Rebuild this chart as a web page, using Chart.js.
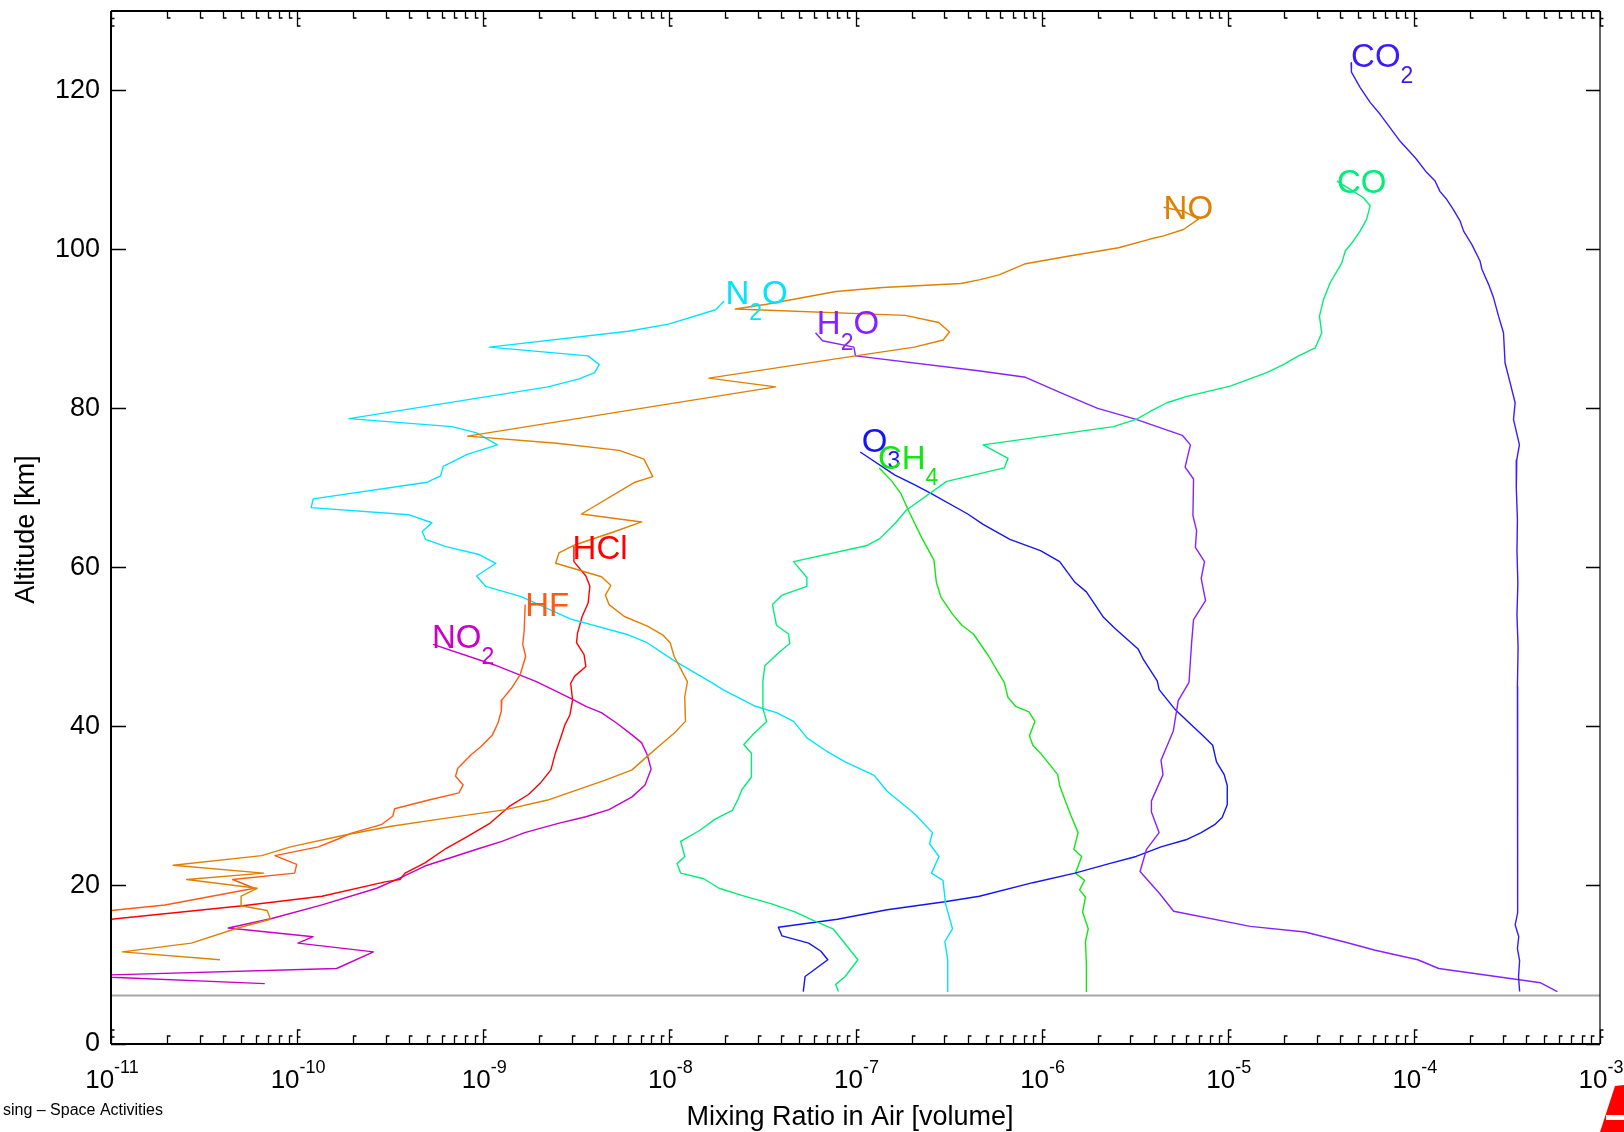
<!DOCTYPE html>
<html>
<head>
<meta charset="utf-8">
<title>Mixing ratio profiles</title>
<script src="https://cdn.jsdelivr.net/npm/chart.js@4.4.1/dist/chart.umd.min.js"></script>
<style>
  html, body { margin: 0; padding: 0; background: #fff; }
  #wrap { position: relative; width: 1624px; height: 1132px; }
</style>
</head>
<body>
<div id="wrap"><canvas id="profileChart"></canvas></div>
<script>
// mixing ratio [volume] vs altitude [km]
const co2Mix = [4.6e-5, 4.62e-5, 5.14e-5, 5.82e-5, 6.59e-5, 7.46e-5, 8.44e-5, 1.02e-4, 1.17e-4, 1.3e-4, 1.38e-4, 1.5e-4, 1.63e-4, 1.77e-4, 1.85e-4, 2.05e-4, 2.27e-4, 2.32e-4, 2.52e-4, 2.68e-4, 2.85e-4, 3.03e-4, 3.09e-4, 3.29e-4, 3.5e-4, 3.43e-4, 3.69e-4, 3.57e-4, 3.55e-4, 3.6e-4, 3.58e-4, 3.62e-4, 3.58e-4, 3.63e-4, 3.6e-4, 3.62e-4, 3.6e-4, 3.62e-4, 3.6e-4, 3.62e-4, 3.6e-4, 3.5e-4, 3.66e-4, 3.6e-4, 3.7e-4, 3.65e-4, 3.7e-4];
const co2Alt = [123.5, 122.3, 120.4, 118.5, 117.0, 115.3, 113.6, 111.5, 109.7, 108.6, 107.3, 106.3, 105.0, 103.6, 102.3, 100.6, 98.5, 97.5, 95.6, 93.9, 91.6, 89.5, 85.7, 83.2, 80.7, 78.6, 75.4, 73.5, 70, 66, 62, 58, 54, 50, 45, 40, 35, 30, 25, 20, 16.5, 15, 13.5, 12, 10.5, 8.5, 6.6];

const coMix = [3.86e-5, 4.74e-5, 5.36e-5, 5.82e-5, 5.58e-5, 5.14e-5, 4.64e-5, 4.28e-5, 4.1e-5, 3.55e-5, 3.27e-5, 3.11e-5, 3.2e-5, 2.95e-5, 2.4e-5, 1.99e-5, 1.62e-5, 1.03e-5, 6.03e-6, 4.71e-6, 3.83e-6, 3.22e-6, 2.43e-6, 4.85e-7, 6.6e-7, 6.3e-7, 3.09e-7, 1.88e-7, 1.63e-7, 1.35e-7, 1.14e-7, 4.65e-8, 5.48e-8, 5.48e-8, 4.03e-8, 3.58e-8, 3.76e-8, 4.37e-8, 4.43e-8, 3.85e-8, 3.26e-8, 3.18e-8, 3.18e-8, 3.33e-8, 2.83e-8, 2.51e-8, 2.76e-8, 2.76e-8, 2.45e-8, 2.34e-8, 2.18e-8, 1.76e-8, 1.46e-8, 1.15e-8, 1.21e-8, 1.1e-8, 1.15e-8, 1.53e-8, 1.85e-8, 2.45e-8, 3.58e-8, 4.76e-8, 6.0e-8, 7.57e-8, 8.6e-8, 1.03e-7, 8.8e-8, 7.83e-8, 8.1e-8];
const coAlt = [108.6, 107.3, 106.5, 105.5, 103.8, 102.3, 100.8, 99.8, 98.3, 95.8, 93.7, 91.6, 89.5, 87.6, 86.6, 85.5, 84.5, 82.8, 81.5, 80.7, 79.6, 78.6, 77.7, 75.4, 73.7, 72.5, 70.8, 67.2, 65.5, 63.6, 62.7, 60.7, 58.7, 57.6, 56.5, 55.3, 52.7, 51.6, 50.4, 49.2, 47.6, 45.7, 42.2, 40.6, 39.0, 37.7, 36.6, 33.6, 32.0, 30.8, 29.4, 28.3, 26.9, 25.5, 23.6, 22.7, 21.5, 20.8, 19.6, 18.7, 17.6, 16.6, 15.5, 14.5, 12.9, 10.6, 8.5, 7.5, 6.6];

const noMix = [4.52e-6, 5.78e-6, 6.96e-6, 5.78e-6, 4.52e-6, 3.83e-6, 2.59e-6, 1.36e-6, 8.2e-7, 5.9e-7, 4.68e-7, 3.68e-7, 1.4e-7, 7.85e-8, 3.33e-8, 2.26e-8, 1.85e-7, 2.8e-7, 3.2e-7, 2.96e-7, 2.07e-7, 1.0e-7, 1.63e-8, 3.72e-8, 8.24e-10, 2.48e-9, 5.38e-9, 7.3e-9, 8.15e-9, 6.53e-9, 3.37e-9, 7.1e-9, 5.09e-9, 3.1e-9, 2.55e-9, 2.45e-9, 4.32e-9, 4.85e-9, 4.53e-9, 4.74e-9, 5.73e-9, 7.62e-9, 9.2e-9, 1.01e-8, 1.06e-8, 1.25e-8, 1.21e-8, 1.22e-8, 1.06e-8, 9.0e-9, 7.6e-9, 6.3e-9, 4.53e-9, 3.4e-9, 2.22e-9, 1.32e-9, 6.2e-10, 3.2e-10, 1.81e-10, 9.2e-11, 6.45e-11, 2.16e-11, 6.6e-11, 2.55e-11, 6.1e-11, 5.0e-11, 5.0e-11, 6.9e-11, 7.2e-11, 4.8e-11, 2.7e-11, 1.15e-11, 3.85e-11];
const noAlt = [105.3, 104.8, 103.8, 102.5, 101.7, 101.3, 100.2, 99.1, 98.2, 96.8, 96.2, 95.7, 95.2, 94.7, 93.1, 92.5, 91.7, 90.8, 89.6, 88.6, 87.7, 86.6, 83.8, 82.7, 76.5, 75.6, 74.7, 73.6, 71.4, 70.7, 66.7, 65.7, 64.5, 62.8, 61.8, 60.5, 58.8, 57.7, 56.5, 55.3, 53.8, 52.6, 51.5, 50.5, 48.8, 45.6, 43.7, 40.6, 39.1, 37.7, 36.2, 34.5, 33.2, 32.2, 30.7, 29.5, 28.4, 27.4, 26.3, 24.8, 23.7, 22.5, 21.5, 20.7, 19.6, 18.6, 17.4, 16.8, 15.7, 14.6, 12.7, 11.6, 10.6];

const n2oMix = [1.97e-8, 1.77e-8, 9.9e-9, 6.0e-9, 1.08e-9, 3.66e-9, 4.2e-9, 3.97e-9, 3.27e-9, 2.23e-9, 1.9e-10, 6.8e-10, 9.2e-10, 1.19e-9, 8.2e-10, 6.1e-10, 5.9e-10, 5.0e-10, 1.22e-10, 1.19e-10, 4.0e-10, 5.3e-10, 4.7e-10, 4.9e-10, 6.3e-10, 9.5e-10, 1.17e-9, 9.2e-10, 1.03e-9, 1.6e-9, 2.93e-9, 6.0e-9, 7.6e-9, 1.05e-8, 1.68e-8, 1.94e-8, 2.9e-8, 3.76e-8, 4.65e-8, 5.5e-8, 6.95e-8, 8.8e-8, 1.26e-7, 1.48e-7, 2.07e-7, 2.59e-7, 2.5e-7, 2.81e-7, 2.56e-7, 2.95e-7, 3.05e-7, 3.32e-7, 3.02e-7, 3.13e-7, 3.13e-7];
const n2oAlt = [93.5, 92.4, 90.6, 89.7, 87.7, 86.6, 85.5, 84.5, 83.7, 82.7, 78.7, 77.7, 76.9, 75.4, 74.2, 72.7, 71.5, 70.7, 68.6, 67.5, 66.6, 65.6, 64.5, 63.5, 62.6, 61.6, 60.5, 58.9, 57.6, 56.3, 53.5, 51.5, 50.5, 48.3, 45.5, 44.6, 42.5, 41.7, 40.6, 38.5, 36.9, 35.5, 33.8, 31.8, 29.0, 26.6, 25.2, 23.6, 21.5, 20.6, 17.6, 14.5, 12.9, 10.6, 6.6];

const h2oMix = [6.1e-8, 6.65e-8, 9.8e-8, 1.0e-7, 4.68e-7, 8.2e-7, 1.28e-6, 2.0e-6, 3.22e-6, 5.7e-6, 6.3e-6, 5.9e-6, 6.55e-6, 6.5e-6, 6.8e-6, 6.7e-6, 7.5e-6, 7.2e-6, 7.6e-6, 6.55e-6, 6.4e-6, 6.19e-6, 5.42e-6, 5.1e-6, 4.38e-6, 4.49e-6, 3.89e-6, 3.89e-6, 4.28e-6, 3.66e-6, 3.38e-6, 4.28e-6, 5.12e-6, 1.32e-5, 2.6e-5, 4.3e-5, 6.2e-5, 1.05e-4, 1.36e-4, 4.8e-4, 5.9e-4];
const h2oAlt = [89.5, 88.5, 87.7, 86.6, 84.7, 83.9, 81.9, 80.0, 78.6, 76.6, 75.4, 72.6, 71.1, 66.5, 64.6, 62.5, 60.7, 58.6, 55.8, 53.4, 50.6, 45.5, 43.2, 39.4, 35.7, 33.9, 30.6, 29.2, 26.6, 24.5, 21.7, 19.0, 16.7, 14.8, 14.1, 12.8, 11.8, 10.6, 9.5, 7.7, 6.6];

const o3Mix = [1.06e-7, 1.63e-7, 2.07e-7, 2.5e-7, 4.01e-7, 4.85e-7, 6.75e-7, 9.86e-7, 1.25e-6, 1.51e-6, 1.74e-6, 2.15e-6, 2.48e-6, 3.3e-6, 3.54e-6, 4.18e-6, 4.28e-6, 5.17e-6, 5.96e-6, 7.2e-6, 8.3e-6, 8.7e-6, 9.57e-6, 9.94e-6, 9.94e-6, 9.33e-6, 8.5e-6, 7.2e-6, 5.96e-6, 4.38e-6, 3.22e-6, 2.31e-6, 1.51e-6, 8.97e-7, 4.63e-7, 3.02e-7, 1.48e-7, 8.0e-8, 3.85e-8, 4.03e-8, 5.6e-8, 6.5e-8, 7.1e-8, 5.36e-8, 5.24e-8];
const o3Alt = [74.5, 71.6, 70.4, 69.4, 66.7, 65.4, 63.5, 62.1, 60.7, 58.1, 56.9, 53.7, 52.3, 49.7, 48.3, 45.7, 44.6, 42.2, 40.8, 39.0, 37.6, 35.5, 33.9, 32.5, 30.1, 28.5, 27.6, 26.6, 25.7, 24.8, 23.6, 22.7, 21.5, 20.3, 18.6, 17.9, 16.9, 15.7, 14.7, 13.6, 12.7, 11.7, 10.6, 8.5, 6.6];

const ch4Mix = [1.34e-7, 1.56e-7, 1.75e-7, 1.92e-7, 2.27e-7, 2.64e-7, 2.72e-7, 2.88e-7, 3.32e-7, 3.73e-7, 4.3e-7, 5.2e-7, 5.86e-7, 6.3e-7, 6.6e-7, 7.25e-7, 8.55e-7, 9.2e-7, 8.6e-7, 8.97e-7, 9.86e-7, 1.22e-6, 1.25e-6, 1.34e-6, 1.44e-6, 1.57e-6, 1.49e-6, 1.64e-6, 1.52e-6, 1.7e-6, 1.6e-6, 1.72e-6, 1.66e-6, 1.78e-6, 1.72e-6, 1.74e-6, 1.74e-6];
const ch4Alt = [72.5, 70.9, 69.3, 67.2, 63.7, 60.9, 58.1, 56.2, 54.1, 52.7, 51.6, 48.8, 46.7, 45.5, 43.6, 42.5, 41.8, 40.6, 38.8, 37.6, 36.6, 33.9, 32.5, 30.6, 28.7, 26.6, 24.5, 23.6, 21.5, 20.6, 19.4, 18.5, 16.6, 14.5, 12.9, 10.1, 6.6];

const hclMix = [3.07e-9, 3.07e-9, 3.56e-9, 3.74e-9, 3.66e-9, 3.4e-9, 3.21e-9, 3.17e-9, 3.48e-9, 3.56e-9, 3.1e-9, 2.95e-9, 3.02e-9, 2.92e-9, 2.75e-9, 2.62e-9, 2.44e-9, 2.31e-9, 2.02e-9, 1.75e-9, 1.38e-9, 1.09e-9, 8.2e-10, 6.3e-10, 4.86e-10, 3.8e-10, 3.57e-10, 2.97e-10, 1.36e-10, 5.1e-11, 1e-11];
const hclAlt = [62.6, 60.7, 58.9, 57.6, 55.5, 53.8, 51.7, 50.5, 49.0, 47.5, 46.3, 45.4, 43.3, 41.4, 40.2, 38.7, 36.6, 34.5, 32.8, 31.4, 29.9, 27.8, 26.1, 24.6, 22.8, 21.5, 20.7, 20.4, 18.6, 17.4, 15.7];

const hfMix = [1.68e-9, 1.66e-9, 1.63e-9, 1.69e-9, 1.58e-9, 1.42e-9, 1.26e-9, 1.25e-9, 1.2e-9, 1.12e-9, 9.7e-10, 8.6e-10, 7.3e-10, 7.1e-10, 7.8e-10, 7.4e-10, 5.1e-10, 3.34e-10, 3.27e-10, 2.83e-10, 1.94e-10, 1.66e-10, 1.3e-10, 7.6e-11, 9.95e-11, 9.7e-11, 4.5e-11, 5.9e-11, 1.95e-11, 1e-11];
const hfAlt = [55.3, 52.1, 50.3, 48.8, 46.5, 44.8, 43.3, 41.9, 40.4, 38.9, 37.4, 36.4, 34.7, 33.7, 32.6, 31.6, 30.7, 29.6, 28.7, 27.6, 26.5, 25.8, 24.8, 23.7, 22.6, 21.5, 20.7, 19.6, 17.5, 16.8];

const no2Mix = [5.37e-10, 1.15e-9, 1.93e-9, 2.95e-9, 3.56e-9, 4.31e-9, 5.2e-9, 6.3e-9, 7.1e-9, 7.6e-9, 7.98e-9, 7.4e-9, 6.3e-9, 4.74e-9, 3.56e-9, 2.56e-9, 1.67e-9, 1.26e-9, 9.5e-10, 4.86e-10, 3.65e-10, 2.68e-10, 1.36e-10, 7.3e-11, 4.27e-11, 1.22e-10, 1.01e-10, 2.57e-10, 1.63e-10, 1e-11, 1e-11, 6.7e-11];
const no2Alt = [50.3, 47.7, 45.6, 43.5, 42.5, 41.7, 40.4, 38.9, 37.9, 36.4, 34.6, 32.6, 31.1, 29.5, 28.6, 27.8, 26.6, 25.5, 24.6, 22.4, 21.0, 19.6, 17.5, 15.8, 14.6, 13.5, 12.7, 11.6, 9.5, 8.7, 8.4, 7.6];

// label anchors (mixing ratio, altitude) at the left end of each gas name
const labelMix = [4.6e-5, 3.86e-5, 4.52e-6, 2.0e-8, 6.2e-8, 1.08e-7, 1.32e-7, 3.02e-9, 1.68e-9, 5.3e-10];
const labelAlt = [122.9, 107.1, 103.8, 93.1, 89.3, 74.5, 72.3, 61.0, 53.8, 49.8];

const decadeExp = [-11, -10, -9, -8, -7, -6, -5, -4, -3];
const altTicks = [0, 20, 40, 60, 80, 100, 120];
const groundAlt = 6.1;

const FONT = '"Liberation Sans", Arial, Helvetica, sans-serif';

function zip(mix, alt) {
    const pts = [];
    for (let i = 0; i < Math.min(mix.length, alt.length); i++) pts.push({ x: mix[i], y: alt[i] });
    return pts;
}

const gases = [
    { name: "CO2", mix: co2Mix, alt: co2Alt, color: "#3a1cff", text: [["CO", 0], ["2", 1]] },
    { name: "CO", mix: coMix, alt: coAlt, color: "#00ee78", text: [["CO", 0]] },
    { name: "NO", mix: noMix, alt: noAlt, color: "#e08000", text: [["NO", 0]] },
    { name: "N2O", mix: n2oMix, alt: n2oAlt, color: "#00e4ff", text: [["N", 0], ["2", 1], ["O", 0]] },
    { name: "H2O", mix: h2oMix, alt: h2oAlt, color: "#8522ff", text: [["H", 0], ["2", 1], ["O", 0]] },
    { name: "O3", mix: o3Mix, alt: o3Alt, color: "#1414f5", text: [["O", 0], ["3", 1]] },
    { name: "CH4", mix: ch4Mix, alt: ch4Alt, color: "#14e614", text: [["CH", 0], ["4", 1]] },
    { name: "HCl", mix: hclMix, alt: hclAlt, color: "#ff0000", text: [["HCl", 0]] },
    { name: "HF", mix: hfMix, alt: hfAlt, color: "#ff5a14", text: [["HF", 0]] },
    { name: "NO2", mix: no2Mix, alt: no2Alt, color: "#c800c8", text: [["NO", 0], ["2", 1]] },
];

// frame, IDL-style ticks, superscript tick labels, gas names
const decor = {
    id: "decor",
    beforeDatasetsDraw(chart) {
        const { ctx, chartArea: a, scales } = chart;
        const gy = scales.y.getPixelForValue(groundAlt);
        ctx.save();
        ctx.strokeStyle = "#a8a8a8";
        ctx.lineWidth = 2;
        ctx.beginPath();
        ctx.moveTo(a.left, gy);
        ctx.lineTo(a.right, gy);
        ctx.stroke();
        ctx.restore();
    },
    afterDatasetsDraw(chart) {
        const { ctx, chartArea: a, scales } = chart;
        const xs = scales.x, ys = scales.y;
        ctx.save();

        // gas names with subscripts
        gases.forEach((g, i) => {
            let px = xs.getPixelForValue(labelMix[i]);
            const py = ys.getPixelForValue(labelAlt[i]);
            ctx.fillStyle = g.color;
            ctx.textAlign = "left";
            ctx.textBaseline = "alphabetic";
            g.text.forEach(([s, sub]) => {
                ctx.font = (sub ? 23 : 33) + "px " + FONT;
                ctx.fillText(s, px, sub ? py + 16 : py);
                px += ctx.measureText(s).width;
            });
        });

        // frame
        ctx.strokeStyle = "#000";
        ctx.lineWidth = 2;
        ctx.beginPath();
        ctx.moveTo(a.left, a.top); ctx.lineTo(a.right, a.top);
        ctx.moveTo(a.left, a.bottom); ctx.lineTo(a.right, a.bottom);
        ctx.moveTo(a.left, a.top); ctx.lineTo(a.left, a.bottom);
        ctx.stroke();
        ctx.lineWidth = 1.2;
        ctx.beginPath();
        ctx.moveTo(a.right, a.top); ctx.lineTo(a.right, a.bottom);
        ctx.stroke();

        // x ticks, bottom and top
        ctx.lineWidth = 1.3;
        const mark = (x0, y0, dir, len, mid) => {
            ctx.beginPath();
            ctx.moveTo(x0, y0);
            ctx.lineTo(x0, y0 + dir * len);
            ctx.lineTo(x0 + 3, y0 + dir * len);
            if (mid) {
                ctx.moveTo(x0, y0 + dir * len * 0.5);
                ctx.lineTo(x0 + 3, y0 + dir * len * 0.5);
            }
            ctx.stroke();
        };
        decadeExp.forEach(d => {
            const mults = d === -3 ? [1] : [1, 2, 3, 4, 5, 6, 7, 8, 9];
            mults.forEach(m => {
                const px = Math.round(xs.getPixelForValue(m * Math.pow(10, d))) + 0.5;
                const major = m === 1;
                mark(px, a.bottom, -1, major ? 14 : 8, major);
                mark(px, a.top, 1, major ? 15 : 7, major);
            });
        });

        // y ticks, left and right, pointing inward
        altTicks.forEach(v => {
            const py = Math.round(ys.getPixelForValue(v)) + 0.5;
            ctx.beginPath();
            ctx.moveTo(a.left, py); ctx.lineTo(a.left + 15, py);
            ctx.moveTo(a.right, py); ctx.lineTo(a.right - 14, py);
            ctx.stroke();
        });

        // x tick labels 10^n
        ctx.fillStyle = "#000";
        ctx.textAlign = "left";
        ctx.textBaseline = "alphabetic";
        decadeExp.forEach(d => {
            const px = xs.getPixelForValue(Math.pow(10, d));
            const sup = String(d);
            ctx.font = "26px " + FONT;
            const w1 = ctx.measureText("10").width;
            ctx.font = "18px " + FONT;
            const w2 = ctx.measureText(sup).width;
            const x0 = px - (w1 + w2) / 2 + 1;
            ctx.font = "26px " + FONT;
            ctx.fillText("10", x0, a.bottom + 44);
            ctx.font = "18px " + FONT;
            ctx.fillText(sup, x0 + w1, a.bottom + 29);
        });

        // axis titles
        ctx.font = "27px " + FONT;
        ctx.textAlign = "center";
        ctx.fillText("Mixing Ratio in Air [volume]", 850, 1125);
        ctx.save();
        ctx.translate(27, (a.top + a.bottom) / 2 + 2);
        ctx.rotate(-Math.PI / 2);
        ctx.textBaseline = "middle";
        ctx.fillText("Altitude [km]", 0, 0);
        ctx.restore();

        // footer fragment and logo corner
        ctx.font = "16px " + FONT;
        ctx.textAlign = "right";
        ctx.textBaseline = "alphabetic";
        ctx.fillText("sing \u2013 Space Activities", 163, 1115);
        ctx.fillStyle = "#ff0000";
        ctx.beginPath();
        ctx.moveTo(1600, 1132);
        ctx.lineTo(1615, 1086);
        ctx.lineTo(1624, 1085);
        ctx.lineTo(1624, 1132);
        ctx.closePath();
        ctx.fill();
        ctx.fillStyle = "#fff";
        ctx.fillRect(1606, 1115, 18, 5);

        ctx.restore();
    },
};

document.addEventListener("DOMContentLoaded", () => {
    const canvas = document.getElementById("profileChart");
    if (typeof Chart === "undefined") {
        console.warn("Chart.js not available");
        return;
    }
    new Chart(canvas, {
        type: "scatter",
        data: {
            datasets: gases.map(g => ({
                label: g.name,
                data: zip(g.mix, g.alt),
                showLine: true,
                borderColor: g.color,
                backgroundColor: g.color,
                borderWidth: 1.4,
                borderJoinStyle: "round",
                pointRadius: 0,
                pointHoverRadius: 0,
                tension: 0,
            })),
        },
        options: {
            responsive: true,
            maintainAspectRatio: false,
            animation: false,
            devicePixelRatio: 1,
            events: [],
            layout: { padding: { left: 0, right: 24, top: 11, bottom: 88 } },
            plugins: { legend: { display: false }, tooltip: { enabled: false } },
            scales: {
                x: {
                    type: "logarithmic",
                    min: 1e-11,
                    max: 1e-3,
                    grid: { display: false },
                    border: { display: false },
                    ticks: { display: false },
                    afterFit: s => {
                        s.height = 0;
                        s.paddingLeft = 0;
                        s.paddingRight = 0;
                    },
                },
                y: {
                    type: "linear",
                    min: 0,
                    max: 130,
                    grid: { display: false },
                    border: { display: false },
                    ticks: {
                        stepSize: 20,
                        includeBounds: false,
                        color: "#000",
                        padding: 3,
                        font: { family: FONT, size: 27 },
                    },
                    afterFit: s => {
                        s.width = 111;
                        s.paddingTop = 0;
                        s.paddingBottom = 0;
                    },
                },
            },
        },
        plugins: [decor],
    });
});
</script>
</body>
</html>
